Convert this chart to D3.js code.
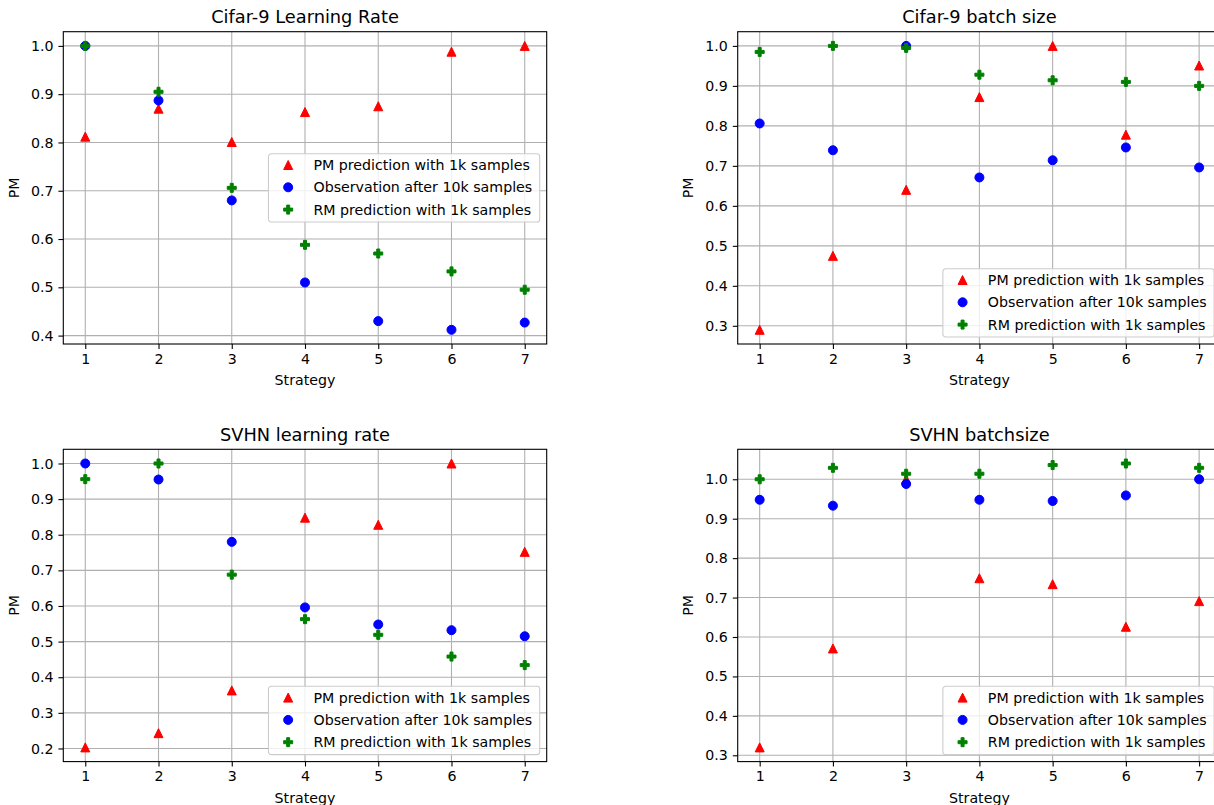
<!DOCTYPE html>
<html>
<head>
<meta charset="utf-8">
<script src="https://cdn.jsdelivr.net/npm/d3@7"></script>
<style>
  html, body { margin: 0; padding: 0; background: #fff; }
  svg { display: block; }
  text { font-family: "DejaVu Sans", sans-serif; fill: #000; }
</style>
</head>
<body>
<svg id="chart" width="1214" height="805"></svg>
<script>
// ---------------- DATA ----------------
const strategies = [1, 2, 3, 4, 5, 6, 7];
const seriesNames = [
  "PM prediction with 1k samples",
  "Observation after 10k samples",
  "RM prediction with 1k samples"
];
const panelTitles = [
  "Cifar-9 Learning Rate",
  "Cifar-9 batch size",
  "SVHN learning rate",
  "SVHN batchsize"
];

// Cifar-9 Learning Rate
const cifarLrPM  = [0.812, 0.870, 0.801, 0.863, 0.875, 0.988, 1.000];
const cifarLrObs = [1.000, 0.887, 0.680, 0.510, 0.430, 0.412, 0.427];
const cifarLrRM  = [1.000, 0.905, 0.706, 0.588, 0.570, 0.533, 0.495];

// Cifar-9 batch size
const cifarBsPM  = [0.290, 0.475, 0.640, 0.872, 1.000, 0.778, 0.951];
const cifarBsObs = [0.806, 0.739, 1.000, 0.671, 0.714, 0.746, 0.696];
const cifarBsRM  = [0.985, 1.000, 0.995, 0.928, 0.914, 0.910, 0.900];

// SVHN learning rate
const svhnLrPM  = [0.203, 0.243, 0.363, 0.848, 0.828, 1.000, 0.752];
const svhnLrObs = [1.000, 0.955, 0.780, 0.596, 0.548, 0.532, 0.515];
const svhnLrRM  = [0.956, 1.000, 0.688, 0.563, 0.519, 0.458, 0.434];

// SVHN batchsize
const svhnBsPM  = [0.320, 0.571, 1.000, 0.749, 0.734, 0.626, 0.691];
const svhnBsObs = [0.948, 0.933, 0.988, 0.948, 0.945, 0.959, 1.000];
const svhnBsRM  = [1.000, 1.029, 1.014, 1.014, 1.036, 1.040, 1.029];

// tick labels
const xTickValues = [1, 2, 3, 4, 5, 6, 7];
const yTicksCifarLr = [0.4, 0.5, 0.6, 0.7, 0.8, 0.9, 1.0];
const yTicksCifarBs = [0.3, 0.4, 0.5, 0.6, 0.7, 0.8, 0.9, 1.0];
const yTicksSvhnLr  = [0.2, 0.3, 0.4, 0.5, 0.6, 0.7, 0.8, 0.9, 1.0];
const yTicksSvhnBs  = [0.3, 0.4, 0.5, 0.6, 0.7, 0.8, 0.9, 1.0];

const xLabel = "Strategy";
const yLabel = "PM";

// ---------------- LAYOUT / STYLE ----------------
const panels = [
  { title: panelTitles[0], series: [cifarLrPM, cifarLrObs, cifarLrRM], yTicks: yTicksCifarLr, x0: 63.3,  y0: 31.7,  legend: "center right" },
  { title: panelTitles[1], series: [cifarBsPM, cifarBsObs, cifarBsRM], yTicks: yTicksCifarBs, x0: 737.7, y0: 31.7,  legend: "lower right" },
  { title: panelTitles[2], series: [svhnLrPM, svhnLrObs, svhnLrRM],    yTicks: yTicksSvhnLr,  x0: 63.3,  y0: 449.3, legend: "lower right" },
  { title: panelTitles[3], series: [svhnBsPM, svhnBsObs, svhnBsRM],    yTicks: yTicksSvhnBs,  x0: 737.7, y0: 449.3, legend: "lower right" }
];
const W = 483.4, H = 312.3;
const colors = ["#ff0000", "#0000ff", "#008000"];
const shapes = ["triangle", "circle", "plus"];
const fs = 14.2, titleFs = 17.8;
const gridColor = "#b0b0b0";
const lw = 1.1;
const tickLen = 4.9, tickPad = 4.9;
const mSize = 9; // marker size in px

function markerPath(shape, s) {
  const h = s / 2;
  if (shape === "triangle") {
    return `M0,${-h}L${-h},${h}L${h},${h}Z`;
  } else if (shape === "plus") {
    const a = s / 6;
    const pts = [[-1,-3],[1,-3],[1,-1],[3,-1],[3,1],[1,1],[1,3],[-1,3],[-1,1],[-3,1],[-3,-1],[-1,-1]]
      .map(q => [q[0] * a, q[1] * a]);
    return "M" + pts.map(q => q.join(",")).join("L") + "Z";
  } else {
    return d3.symbol().type(d3.symbolCircle).size(Math.PI * h * h)();
  }
}

function padExtent(ext) {
  const span = ext[1] - ext[0];
  return [ext[0] - 0.05 * span, ext[1] + 0.05 * span];
}

const svg = d3.select("#chart");

panels.forEach(p => {
  const g = svg.append("g").attr("transform", `translate(${p.x0},${p.y0})`);
  const allVals = p.series.flat();
  const x = d3.scaleLinear().domain(padExtent(d3.extent(strategies))).range([0, W]);
  const y = d3.scaleLinear().domain(padExtent(d3.extent(allVals))).range([H, 0]);

  // grid
  g.append("g").selectAll("line").data(xTickValues).join("line")
    .attr("x1", d => x(d)).attr("x2", d => x(d)).attr("y1", 0).attr("y2", H)
    .attr("stroke", gridColor).attr("stroke-width", lw);
  g.append("g").selectAll("line").data(p.yTicks).join("line")
    .attr("y1", d => y(d)).attr("y2", d => y(d)).attr("x1", 0).attr("x2", W)
    .attr("stroke", gridColor).attr("stroke-width", lw);

  // axes
  const xAxis = d3.axisBottom(x).tickValues(xTickValues).tickFormat(d3.format("d"))
    .tickSize(tickLen).tickPadding(tickPad);
  const yAxis = d3.axisLeft(y).tickValues(p.yTicks).tickFormat(d3.format(".1f"))
    .tickSize(tickLen).tickPadding(tickPad);
  const gx = g.append("g").attr("transform", `translate(0,${H})`).call(xAxis);
  const gy = g.append("g").call(yAxis);
  [gx, gy].forEach(a => {
    a.select(".domain").remove();
    a.selectAll(".tick line").attr("stroke", "#000").attr("stroke-width", lw);
    a.selectAll(".tick text").attr("font-size", fs).attr("font-family", "DejaVu Sans").attr("fill", "#222");
  });

  // markers
  p.series.forEach((vals, si) => {
    g.append("g").selectAll("path").data(vals).join("path")
      .attr("transform", (d, i) => `translate(${x(strategies[i])},${y(d)})`)
      .attr("d", markerPath(shapes[si], mSize))
      .attr("fill", colors[si]).attr("stroke", colors[si]).attr("stroke-width", 1);
  });

  // frame
  g.append("rect").attr("x", 0).attr("y", 0).attr("width", W).attr("height", H)
    .attr("fill", "none").attr("stroke", "#000").attr("stroke-width", lw);

  // title
  g.append("text").attr("x", W / 2).attr("y", -8.6).attr("text-anchor", "middle")
    .attr("font-size", titleFs).attr("fill", "#222").text(p.title);
  // x label
  g.append("text").attr("x", W / 2).attr("y", H + 41).attr("text-anchor", "middle")
    .attr("font-size", fs).attr("fill", "#222").text(xLabel);
  // y label
  g.append("text").attr("transform", `translate(${-44.5},${H / 2}) rotate(-90)`)
    .attr("text-anchor", "middle").attr("font-size", fs).attr("fill", "#222").text(yLabel);

  // legend
  const lg = g.append("g");
  const texts = [];
  seriesNames.forEach((name, i) => {
    texts.push(lg.append("text").attr("font-size", fs).attr("fill", "#222").attr("x", 45).attr("y", 11.3 + i * 22.3)
      .attr("dy", "0.35em").text(name));
  });
  const maxW = d3.max(texts, t => t.node().getComputedTextLength());
  const lw2 = 45 + maxW + 7.5, lh = 68.3;
  lg.insert("rect", ":first-child").attr("width", lw2).attr("height", lh).attr("rx", 2.8)
    .attr("fill", "rgba(255,255,255,0.8)").attr("stroke", "#cccccc").attr("stroke-width", 1.1);
  seriesNames.forEach((name, i) => {
    lg.append("path").attr("transform", `translate(19.7,${11.3 + i * 22.3})`)
      .attr("d", markerPath(shapes[i], mSize))
      .attr("fill", colors[i]).attr("stroke", colors[i]).attr("stroke-width", 1);
  });
  const lx = W - 7 - lw2;
  const ly = p.legend === "center right" ? (H - lh) / 2 : H - 7 - lh;
  lg.attr("transform", `translate(${lx},${ly})`);
});
</script>
</body>
</html>
